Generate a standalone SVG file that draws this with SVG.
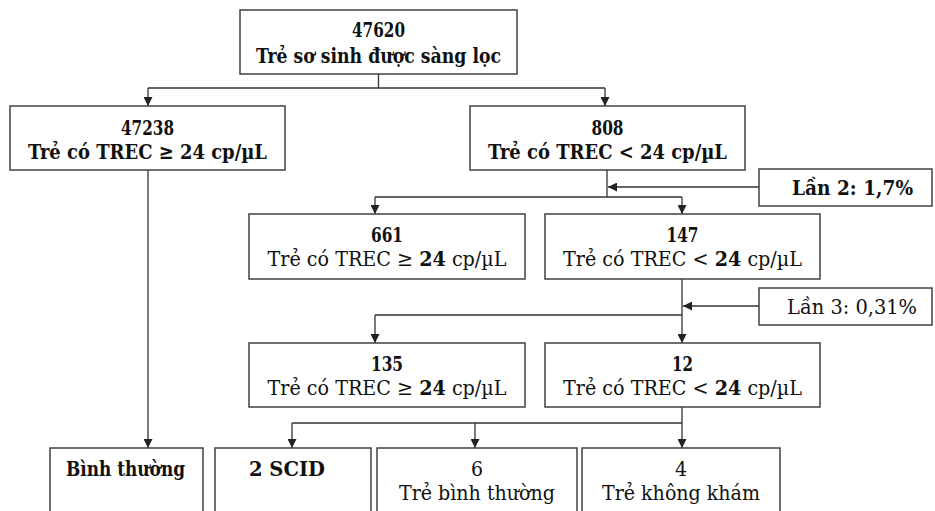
<svg xmlns="http://www.w3.org/2000/svg" width="935" height="511" viewBox="0 0 935 511">
<defs>
<marker id="arr" viewBox="0 0 10 10" refX="10" refY="5" markerWidth="9" markerHeight="9" markerUnits="userSpaceOnUse" orient="auto">
<path d="M0,0 L10,5 L0,10 Z" fill="#222"/>
</marker>
<style>
.box{fill:#fff;stroke:#404040;stroke-width:1.5}
.t{font-family:"DejaVu Serif Condensed","DejaVu Serif","Liberation Serif",serif;font-size:21px;fill:#111;text-anchor:middle}
.b{font-weight:bold}
.c{fill:none;stroke:#333;stroke-width:1.3}
.a{fill:none;stroke:#333;stroke-width:1.3;marker-end:url(#arr)}
</style>
</defs>
<rect width="935" height="511" fill="#fff"/>

<g id="connectors">
<path class="c" d="M378.5,74 V88 M148,88 H605"/>
<path class="a" d="M148,88 V106"/>
<path class="a" d="M605,88 V106"/>
<path class="a" d="M148,170 V448"/>
<path class="c" d="M607,170 V197 M375,197 H682"/>
<path class="a" d="M759,187 H608"/>
<path class="a" d="M375,197 V214"/>
<path class="a" d="M682,197 V214"/>
<path class="c" d="M682,279 V315 M375,315 H682"/>
<path class="a" d="M759,306 H683"/>
<path class="a" d="M375,315 V343"/>
<path class="a" d="M682,315 V343"/>
<path class="c" d="M682,407 V423 M292,423 H682"/>
<path class="a" d="M292,423 V448"/>
<path class="a" d="M475,423 V448"/>
<path class="a" d="M682,423 V448"/>
</g>

<g id="n47620">
<rect class="box" x="240" y="10" width="277" height="64"/>
<text class="t b" x="378.5" y="37" textLength="53" lengthAdjust="spacingAndGlyphs">47620</text>
<text class="t b" x="378.5" y="63" textLength="245" lengthAdjust="spacingAndGlyphs">Trẻ sơ sinh được sàng lọc</text>
</g>
<g id="n47238">
<rect class="box" x="10" y="106" width="275" height="64"/>
<text class="t b" x="147.5" y="135" textLength="53" lengthAdjust="spacingAndGlyphs">47238</text>
<text class="t b" x="147.5" y="159" textLength="239" lengthAdjust="spacingAndGlyphs">Trẻ có TREC ≥ 24 cp/µL</text>
</g>
<g id="n808">
<rect class="box" x="470" y="106" width="275" height="64"/>
<text class="t b" x="607.5" y="135" textLength="32" lengthAdjust="spacingAndGlyphs">808</text>
<text class="t b" x="607.5" y="159" textLength="239" lengthAdjust="spacingAndGlyphs">Trẻ có TREC &lt; 24 cp/µL</text>
</g>
<g id="lan2">
<rect class="box" x="759" y="169" width="173" height="37"/>
<text class="t b" x="852.5" y="195" textLength="121" lengthAdjust="spacingAndGlyphs">Lần 2: 1,7%</text>
</g>
<g id="n661">
<rect class="box" x="249" y="214" width="276" height="65"/>
<text class="t b" x="387" y="242" textLength="32" lengthAdjust="spacingAndGlyphs">661</text>
<text class="t" x="387" y="266" textLength="239" lengthAdjust="spacingAndGlyphs">Trẻ có TREC ≥ <tspan class="b">24</tspan> cp/µL</text>
</g>
<g id="n147">
<rect class="box" x="545" y="214" width="275" height="65"/>
<text class="t b" x="682.5" y="242" textLength="32" lengthAdjust="spacingAndGlyphs">147</text>
<text class="t" x="682.5" y="266" textLength="239" lengthAdjust="spacingAndGlyphs">Trẻ có TREC &lt; <tspan class="b">24</tspan> cp/µL</text>
</g>
<g id="lan3">
<rect class="box" x="759" y="288" width="173" height="37"/>
<text class="t" x="852" y="314" textLength="130" lengthAdjust="spacingAndGlyphs">Lần 3: 0,31%</text>
</g>
<g id="n135">
<rect class="box" x="249" y="343" width="276" height="64"/>
<text class="t b" x="387" y="371" textLength="32" lengthAdjust="spacingAndGlyphs">135</text>
<text class="t" x="387" y="395" textLength="239" lengthAdjust="spacingAndGlyphs">Trẻ có TREC ≥ <tspan class="b">24</tspan> cp/µL</text>
</g>
<g id="n12">
<rect class="box" x="545" y="343" width="275" height="64"/>
<text class="t b" x="682.5" y="371" textLength="21" lengthAdjust="spacingAndGlyphs">12</text>
<text class="t" x="682.5" y="395" textLength="239" lengthAdjust="spacingAndGlyphs">Trẻ có TREC &lt; <tspan class="b">24</tspan> cp/µL</text>
</g>
<g id="binhthuong">
<rect class="box" x="50" y="448" width="153" height="70"/>
<text class="t b" x="125.5" y="476" textLength="119" lengthAdjust="spacingAndGlyphs">Bình thường</text>
</g>
<g id="scid">
<rect class="box" x="215" y="448" width="156" height="70"/>
<text class="t b" x="287" y="476" textLength="76" lengthAdjust="spacingAndGlyphs">2 SCID</text>
</g>
<g id="n6">
<rect class="box" x="377" y="448" width="200" height="70"/>
<text class="t" x="477" y="476">6</text>
<text class="t" x="477" y="500" textLength="156" lengthAdjust="spacingAndGlyphs">Trẻ bình thường</text>
</g>
<g id="n4">
<rect class="box" x="582" y="448" width="198" height="70"/>
<text class="t" x="681" y="476">4</text>
<text class="t" x="681" y="500" textLength="158" lengthAdjust="spacingAndGlyphs">Trẻ không khám</text>
</g>
</svg>
